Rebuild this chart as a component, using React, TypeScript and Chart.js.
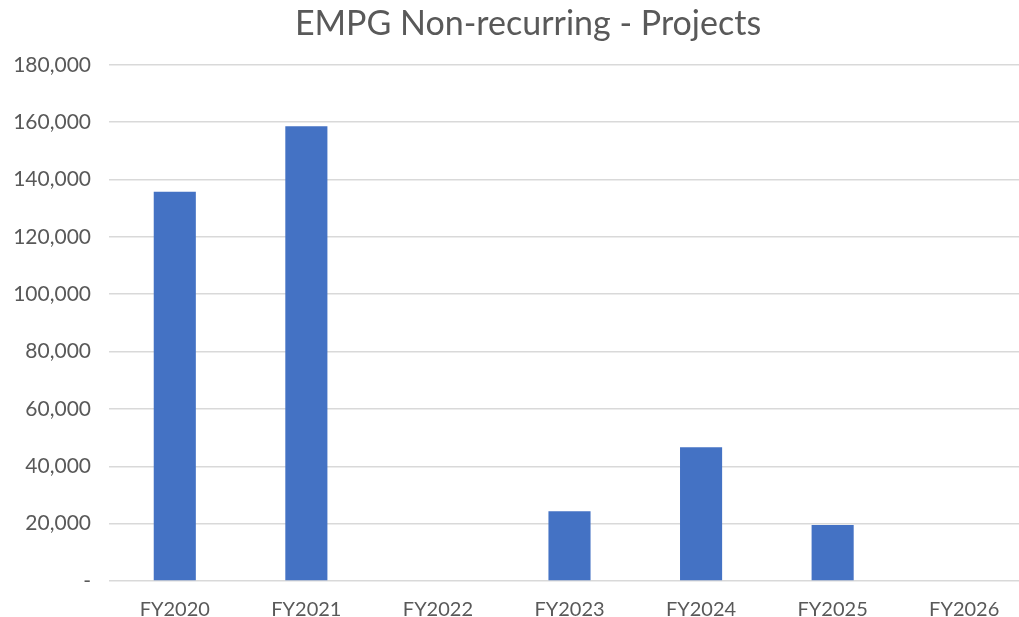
import React, { useEffect, useRef } from "react";
import { Chart, registerables } from "chart.js";

Chart.register(...registerables);

const categories = ["FY2020", "FY2021", "FY2022", "FY2023", "FY2024", "FY2025", "FY2026"];
const projectValues = [135700, 158600, 300, 24300, 46650, 19500, 300];
const yTickMin = 0;
const yTickMax = 180000;
const yTickStep = 20000;
const chartTitle = "EMPG Non-recurring - Projects";

const FONT = "Lato, 'Open Sans', sans-serif";
const TEXT = "#595959";
const GRID = "#d9d9d9";
const BAR = "#4472C4";

const CANVAS_W = 1031;
const CANVAS_H = 617;

const noLabelClip = (scale: any) => {
  scale._computeLabelArea = () => undefined;
};

export default function App() {
  const ref = useRef<HTMLCanvasElement | null>(null);

  useEffect(() => {
    if (!ref.current) return;
    const chart = new Chart(ref.current, {
      type: "bar",
      data: {
        labels: categories,
        datasets: [
          {
            label: "Projects",
            data: projectValues,
            backgroundColor: BAR,
            borderWidth: 0,
            barPercentage: 0.32,
            categoryPercentage: 1,
          },
        ],
      },
      options: {
        responsive: false,
        animation: false,
        layout: { padding: { left: 26, right: 1, top: 0, bottom: 0 } },
        plugins: {
          legend: { display: false },
          tooltip: { enabled: false },
          title: {
            display: true,
            text: chartTitle,
            color: TEXT,
            font: { family: FONT, size: 34, weight: "normal" },
            padding: { top: 4, bottom: 20 },
          },
        },
        scales: {
          x: {
            grid: { display: false },
            border: { display: false },
            ticks: {
              color: TEXT,
              font: { family: FONT, size: 20 },
              padding: 9,
              maxRotation: 0,
            },
            afterFit: (scale: any) => {
              scale.height = 36;
              noLabelClip(scale);
            },
          },
          y: {
            min: yTickMin,
            max: yTickMax,
            border: { display: false },
            grid: { color: GRID, lineWidth: 1.5, drawTicks: false },
            ticks: {
              stepSize: yTickStep,
              color: TEXT,
              font: { family: FONT, size: 21 },
              padding: 18,
              callback: (v: any) => (Number(v) === 0 ? "-" : Number(v).toLocaleString("en-US")),
            },
            afterFit: (scale: any) => {
              scale.width = 83;
              noLabelClip(scale);
            },
          },
        },
      },
    });
    return () => chart.destroy();
  }, []);

  return (
    <div
      style={{
        position: "fixed",
        left: 0,
        top: 0,
        width: 1019,
        height: 617,
        overflow: "hidden",
        background: "#fff",
      }}
    >
      <canvas ref={ref} width={CANVAS_W} height={CANVAS_H} style={{ display: "block" }} />
    </div>
  );
}
